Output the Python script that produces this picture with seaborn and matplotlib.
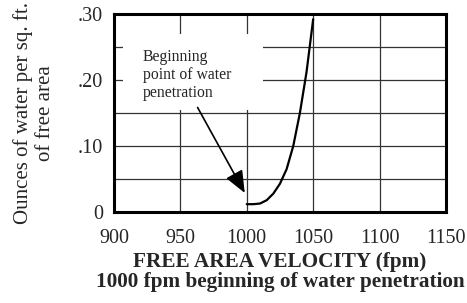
import matplotlib
matplotlib.use("Agg")
import matplotlib.pyplot as plt
import matplotlib.patches as mpatches
import pandas as pd
import seaborn as sns

# values
velocity = [1000, 1005, 1010, 1015, 1020, 1025, 1030, 1035, 1040, 1045, 1050]
water = [0.012, 0.012, 0.013, 0.018, 0.028, 0.043, 0.065, 0.100, 0.150, 0.212, 0.292]
x_ticks = [900, 950, 1000, 1050, 1100, 1150]
y_ticks = [0, 0.10, 0.20, 0.30]
y_tick_labels = ["0", ".10", ".20", ".30"]

df = pd.DataFrame({"velocity": velocity, "water": water})

sns.set_style("white")
plt.rcParams["font.family"] = ["Liberation Serif", "DejaVu Serif"]

fig = plt.figure(figsize=(4.67, 3.03), dpi=100)
ax = fig.add_axes([0.244, 0.300, 0.711, 0.654])

sns.lineplot(data=df, x="velocity", y="water", color="black", lw=1.6, ax=ax, zorder=4)

ax.set_xlim(900, 1150)
ax.set_ylim(0, 0.30)
ax.set_xticks(x_ticks)
ax.set_yticks(y_ticks)
ax.set_yticklabels(y_tick_labels)
ax.set_yticks([0.05, 0.15, 0.25], minor=True)
ax.grid(True, which="both", color="#333333", lw=0.9)
ax.set_axisbelow(True)
ax.tick_params(axis="both", which="both", direction="in", length=0, labelsize=14.5)
ax.tick_params(axis="x", pad=12)
ax.tick_params(axis="y", pad=8)
for s in ax.spines.values():
    s.set_linewidth(2.2)
    s.set_color("black")

# white panel behind the annotation text
ax.add_patch(mpatches.Rectangle((906.8, 0.155), 105.4, 0.115, facecolor="white",
                                edgecolor="none", zorder=2))

ax.annotate("Beginning\npoint of water\npenetration", xy=(998.5, 0.029),
            xytext=(921.5, 0.247), fontsize=11.3, va="top", ha="left",
            linespacing=1.15, zorder=5,
            arrowprops=dict(arrowstyle="-|>,head_length=1.2,head_width=0.5",
                            color="black", lw=1.2, shrinkA=3, shrinkB=0,
                            relpos=(0.58, 0.0)))

ax.set_xlabel("FREE AREA VELOCITY (fpm)\n1000 fpm beginning of water penetration",
              fontsize=15.3, fontweight="bold", linespacing=1.0, labelpad=3)
ax.set_ylabel("Ounces of water per sq. ft.\nof free area", fontsize=15,
              linespacing=1.25, labelpad=16)

fig.savefig("out.png", dpi=100)
